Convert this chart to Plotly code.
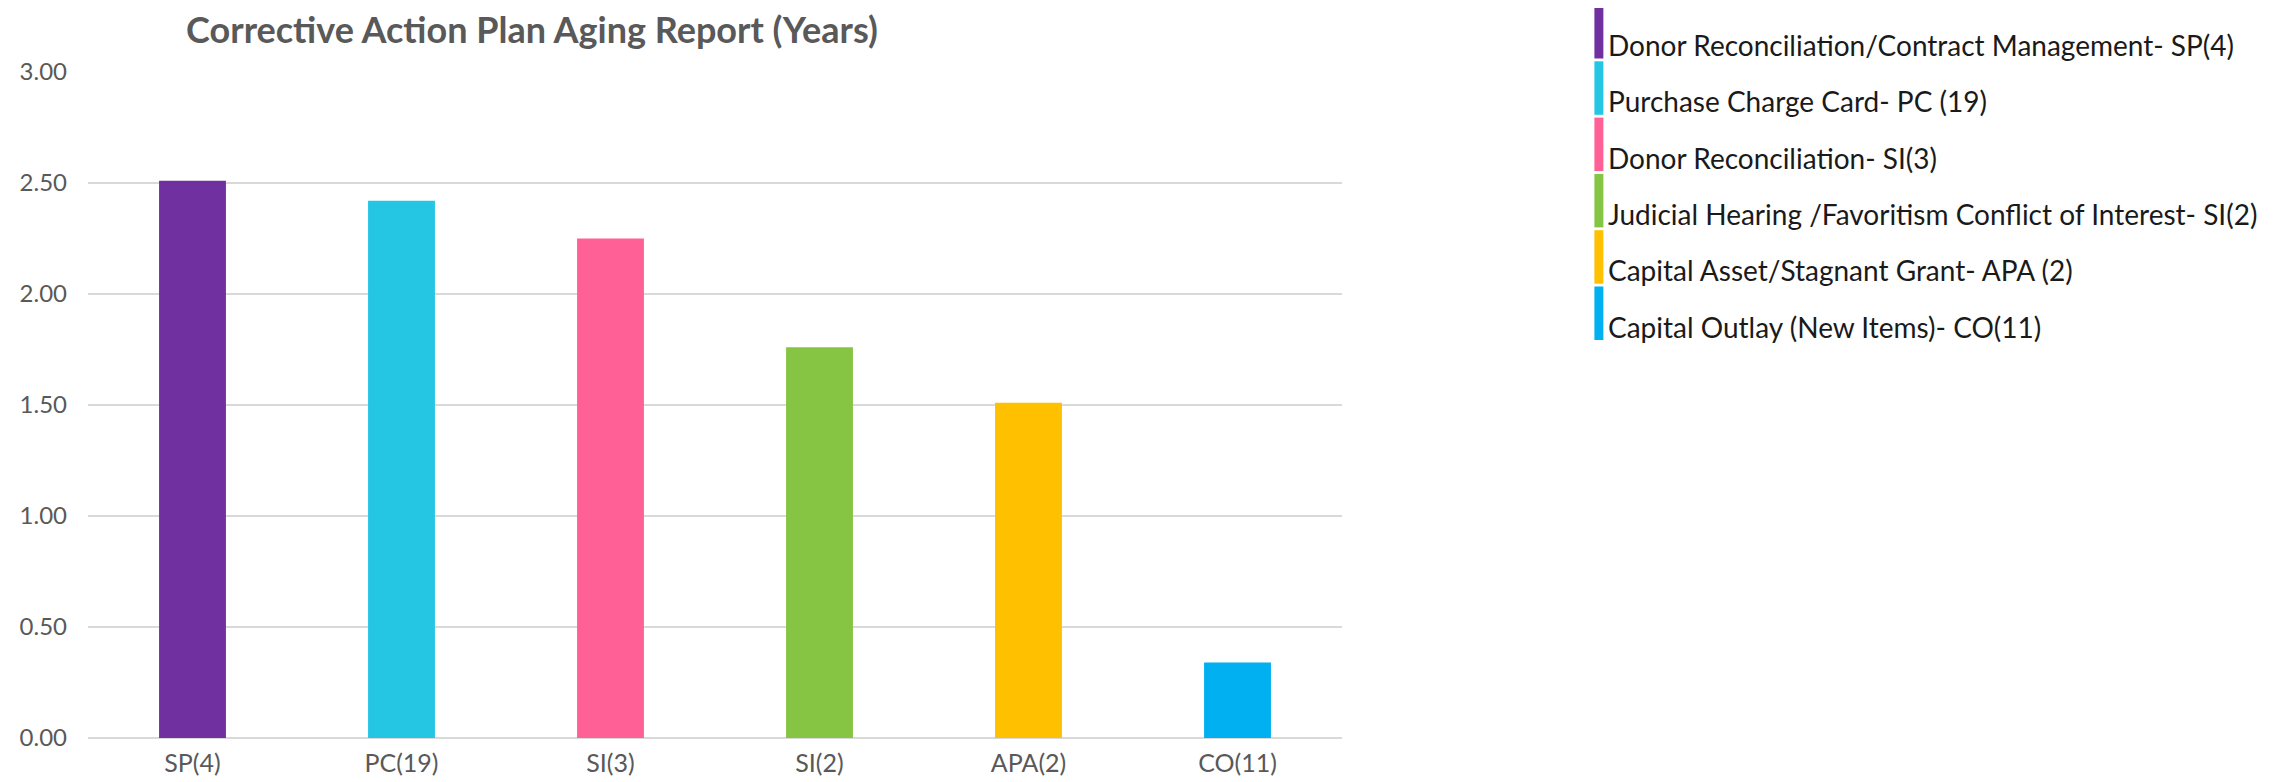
import plotly.graph_objects as go

categories = ["SP(4)", "PC(19)", "SI(3)", "SI(2)", "APA(2)", "CO(11)"]
values = [2.51, 2.42, 2.25, 1.76, 1.51, 0.34]
legend_names = [
    "Donor Reconciliation/Contract Management- SP(4)",
    "Purchase Charge Card- PC (19)",
    "Donor Reconciliation- SI(3)",
    "Judicial Hearing /Favoritism Conflict of Interest- SI(2)",
    "Capital Asset/Stagnant Grant- APA (2)",
    "Capital Outlay (New Items)- CO(11)",
]
colors = ["#7030A0", "#25C6E4", "#FF6196", "#86C443", "#FFC000", "#00B0F0"]
y_ticks = [0, 0.5, 1.0, 1.5, 2.0, 2.5, 3.0]

W, H = 2285, 782
L, R, T, B = 77, 951, 64, 52
pw, ph = W - L - R, H - T - B

def px(x):
    return (x - L) / pw

def py(y):
    return (H - B - y) / ph

fig = go.Figure()
fig.add_trace(go.Bar(
    x=categories, y=values, marker=dict(color=colors, line=dict(width=0)),
    width=0.32, showlegend=False, hoverinfo="x+y",
))

shapes = []
annotations = []
for i, (name, c) in enumerate(zip(legend_names, colors)):
    top = -3 + 56.3 * i
    bot = top + 53.5
    shapes.append(dict(type="rect", xref="paper", yref="paper",
                       x0=px(1587), x1=px(1596), y0=py(bot), y1=py(top),
                       fillcolor=c, line=dict(width=0)))
    annotations.append(dict(xref="paper", yref="paper", x=px(1599), y=py(top + 40),
                            xanchor="left", yanchor="middle", text=name, showarrow=False,
                            font=dict(family="Lato", size=28, color="#1a1a1a")))

fig.update_layout(
    width=W, height=H,
    margin=dict(l=L, r=R, t=T, b=B),
    paper_bgcolor="white", plot_bgcolor="white",
    title=dict(text="<b>Corrective Action Plan Aging Report (Years)</b>",
               x=524 / W, xanchor="center", y=1 - 22 / H, yanchor="middle",
               font=dict(family="Lato", size=36, color="#595959")),
    font=dict(family="Lato", color="#595959"),
    shapes=shapes, annotations=annotations,
    bargap=0.68,
)
fig.update_xaxes(showgrid=False, showline=False, ticks="", tickfont=dict(size=25, color="#595959"),
                 ticklabelstandoff=8)
fig.update_yaxes(range=[0, 3], tickvals=y_ticks, tickformat=".2f", showgrid=True,
                 gridcolor="#D9D9D9", gridwidth=1.5, zeroline=True, zerolinecolor="#D9D9D9",
                 zerolinewidth=2, tickfont=dict(size=24, color="#595959"), ticks="",
                 ticklabelstandoff=20)

fig.write_html("out.html")
